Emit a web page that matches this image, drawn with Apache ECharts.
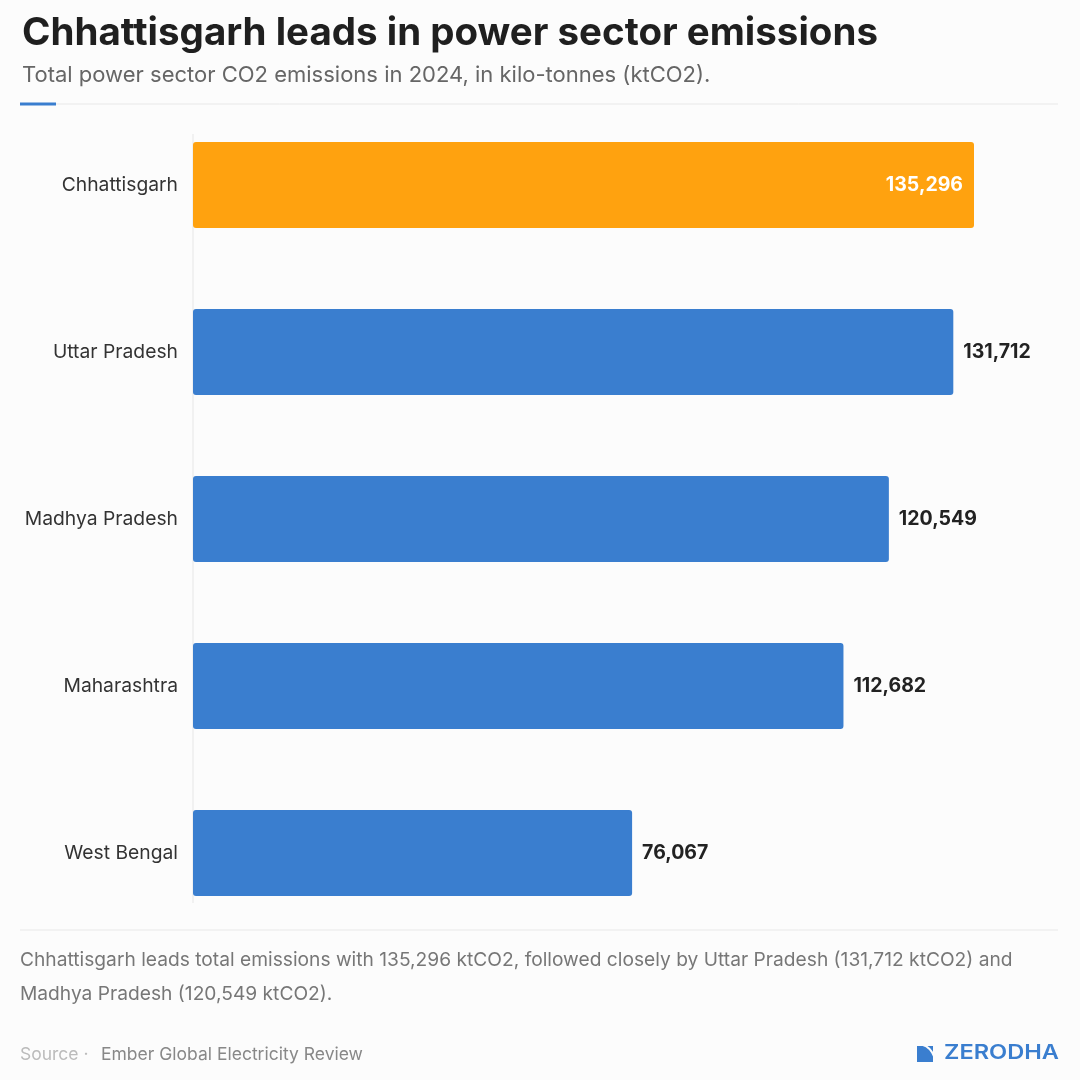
<!DOCTYPE html>
<html>
<head>
<meta charset="utf-8">
<script src="https://cdn.jsdelivr.net/npm/echarts@6/dist/echarts.min.js"></script>
<style>
  html, body { margin: 0; padding: 0; background: #fcfcfc; }
  #myCanvas { width: 1080px; height: 1080px; }
</style>
</head>
<body>
<div id="myCanvas"></div>
<script>
// Chart data
var states = ['Chhattisgarh', 'Uttar Pradesh', 'Madhya Pradesh', 'Maharashtra', 'West Bengal'];
var emissions = [135296, 131712, 120549, 112682, 76067];
var highlightIndex = 0;

var FONT = 'Inter, "Noto Sans", sans-serif';

var chartDom = document.getElementById('myCanvas');
var myChart = echarts.init(chartDom, null, { renderer: 'canvas' });

function fmt(v) {
  return v.toString().replace(/\B(?=(\d{3})+(?!\d))/g, ',');
}

// Bars: the highlighted one is orange with an inside label
var barData = emissions.map(function (v, i) {
  if (i === highlightIndex) {
    return {
      value: v,
      itemStyle: { color: '#ffa20f' },
      label: { position: 'insideRight', distance: 11, color: '#ffffff' }
    };
  }
  return v;
});

var option = {
  backgroundColor: '#fcfcfc',
  textStyle: { fontFamily: FONT },
  title: {
    text: 'Chhattisgarh leads in power sector emissions',
    subtext: 'Total power sector CO2 emissions in 2024, in kilo-tonnes (ktCO2).',
    left: 22,
    top: 14,
    padding: 0,
    itemGap: 11,
    textStyle: { fontFamily: FONT, fontSize: 38.5, fontWeight: 700, color: '#1f1f1f' },
    subtextStyle: { fontFamily: FONT, fontSize: 22, color: '#666666' }
  },
  grid: { left: 193, right: 106, top: 101.5, height: 835 },
  xAxis: {
    type: 'value',
    min: 0,
    max: 'dataMax',
    show: false
  },
  yAxis: {
    type: 'category',
    data: states,
    inverse: true,
    axisLine: { show: false },
    axisTick: { show: false },
    axisLabel: { margin: 15, fontSize: 19.3, color: '#333333', fontFamily: FONT, padding: [2, 0, 0, 0] }
  },
  series: [
    {
      type: 'bar',
      data: barData,
      barWidth: 86,
      itemStyle: { color: '#3a7ecf', borderRadius: 3 },
      label: {
        show: true,
        position: 'right',
        distance: 10,
        fontFamily: FONT,
        fontSize: 19.5,
        fontWeight: 700,
        color: '#222222',
        formatter: function (p) { return fmt(p.value); }
      }
    }
  ],
  graphic: [
    // header divider with accent
    { type: 'line', shape: { x1: 20, y1: 104, x2: 1058, y2: 104 }, style: { stroke: '#e8e8e8', lineWidth: 1 } },
    { type: 'line', shape: { x1: 20, y1: 104, x2: 56, y2: 104 }, style: { stroke: '#3a7ecf', lineWidth: 3 } },
    // category axis line
    { type: 'line', shape: { x1: 193, y1: 134, x2: 193, y2: 903 }, style: { stroke: '#e6e6e6', lineWidth: 1 } },
    // footer divider
    { type: 'line', shape: { x1: 20, y1: 930, x2: 1058, y2: 930 }, style: { stroke: '#e8e8e8', lineWidth: 1 } },
    // footer note
    {
      type: 'text', x: 20, y: 943,
      style: {
        text: 'Chhattisgarh leads total emissions with 135,296 ktCO2, followed closely by Uttar Pradesh (131,712 ktCO2) and\nMadhya Pradesh (120,549 ktCO2).',
        font: '19.2px ' + FONT, lineHeight: 34, fill: '#777777'
      }
    },
    // source
    {
      type: 'text', x: 20, y: 1046,
      style: { text: 'Source ·', font: '17.5px ' + FONT, fill: '#bbbbbb' }
    },
    {
      type: 'text', x: 101, y: 1046,
      style: { text: 'Ember Global Electricity Review', font: '17.5px ' + FONT, fill: '#888888' }
    },
    // logo mark
    {
      type: 'rect',
      shape: { x: 917, y: 1046, width: 16, height: 16 },
      style: { fill: '#3a7ecf' }
    },
    {
      type: 'bezierCurve',
      shape: { x1: 923, y1: 1045, cpx1: 930, cpy1: 1047, x2: 934, y2: 1056 },
      style: { stroke: '#fcfcfc', lineWidth: 2.2, fill: null }
    },
    {
      type: 'text', x: 944, y: 1043, scaleX: 1.18,
      style: { text: 'ZERODHA', font: '600 20px ' + FONT, fill: '#3a7ecf' }
    }
  ]
};

myChart.setOption(option);
</script>
</body>
</html>
